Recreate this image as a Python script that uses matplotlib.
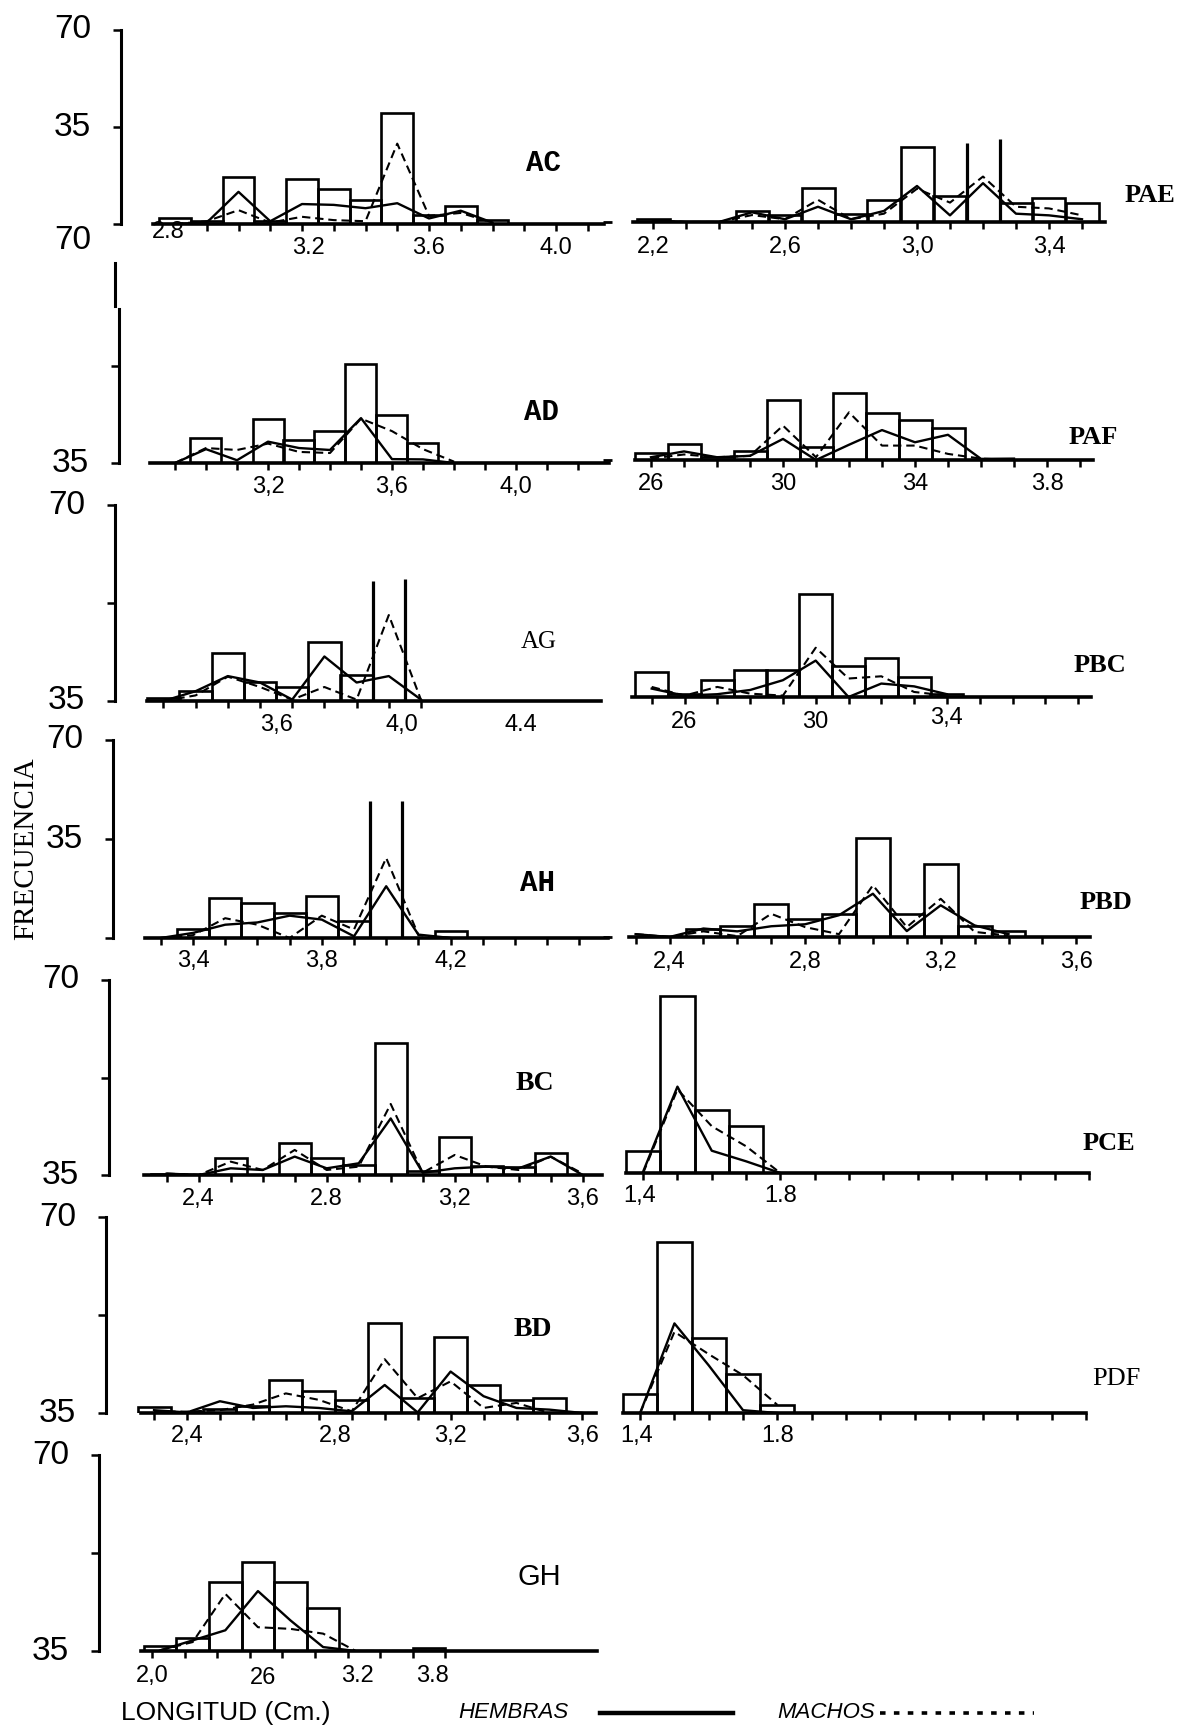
import matplotlib
matplotlib.use('Agg')
import matplotlib.pyplot as plt
from matplotlib.lines import Line2D
from matplotlib.transforms import blended_transform_factory

W, H = 1186, 1732
SANS = ['Liberation Sans', 'DejaVu Sans']
SERIF = ['Liberation Serif', 'DejaVu Serif']
MONO = ['Liberation Mono', 'DejaVu Sans Mono']
plt.rcParams['lines.scale_dashes'] = False

# ---- data: bin centres (cm), total frequency bars, hembras, machos ----
AC_X = [2.8, 2.9, 3.0, 3.1, 3.2, 3.3, 3.4, 3.5, 3.6, 3.7, 3.8]
AC_BARS = [2.2, 1.0, 17, 1.0, 16.2, 12.6, 8.7, 40, 3.2, 6.5, 1.4]
AC_HEMBRAS = [0, 0.5, 11.6, 1, 7.2, 6.9, 5.7, 7.5, 2, 4.8, 0.5]
AC_MACHOS = [0, 1, 5, 0.5, 2.6, 1.4, 1, 29, 2.9, 4, 0.5]

PAE_X = [2.2, 2.3, 2.4, 2.5, 2.6, 2.7, 2.8, 2.9, 3.0, 3.1, 3.2, 3.3, 3.4, 3.5]
PAE_BARS = [1, 0, 0, 4, 2.6, 12.3, 2.8, 7.8, 27.2, 9.5, 0, 7, 8.6, 7]
PAE_HEMBRAS = [0.5, 0, 0, 3.5, 1, 5.5, 1, 4, 13, 2.4, 14, 3, 2.4, 1]
PAE_MACHOS = [0.5, 0, 0, 2.5, 1, 8, 1, 3, 12, 7, 16.4, 5.5, 4.9, 2.4]
PAE_OPEN = (3.2, 28.4, 30)

AD_X = [2.9, 3.0, 3.1, 3.2, 3.3, 3.4, 3.5, 3.6, 3.7, 3.8]
AD_BARS = [0, 8.9, 0, 15.8, 8.3, 11.5, 35.6, 17.3, 7.1, 0]
AD_HEMBRAS = [0, 5, 1, 7.7, 5.4, 4.7, 16.2, 1.4, 1.3, 0]
AD_MACHOS = [0, 5.4, 4.7, 7, 4, 3.6, 16, 11.5, 5, 0.5]

PAF_X = [2.6, 2.7, 2.8, 2.9, 3.0, 3.1, 3.2, 3.3, 3.4, 3.5, 3.6, 3.7]
PAF_BARS = [2.4, 5.8, 1.2, 3.4, 21.6, 4.6, 24, 16.8, 14.6, 11.5, 0, 0]
PAF_HEMBRAS = [1, 3.1, 1, 1.5, 7.6, 0, 5.5, 10.8, 6.4, 9.1, 0.4, 0.5]
PAF_MACHOS = [0.5, 2, 1, 1.5, 12.4, 1, 17.2, 5.2, 5.2, 2.2, 0.5, 0]

AG_X = [3.3, 3.4, 3.5, 3.6, 3.7, 3.8, 3.9, 4.0, 4.1]
AG_BARS = [1, 3.7, 17.3, 6.9, 5, 21.1, 9.2, 0, 0]
AG_HEMBRAS = [0, 3.5, 8.9, 6.6, 0.5, 15.9, 6.6, 8.9, 0.5]
AG_MACHOS = [0, 2, 8.7, 5, 0.5, 5, 0.5, 30.7, 0.4]
AG_OPEN = (4.0, 43, 43.5)

PBC_X = [2.5, 2.6, 2.7, 2.8, 2.9, 3.0, 3.1, 3.2, 3.3, 3.4]
PBC_BARS = [9, 1, 6, 9.5, 9.5, 36.8, 11, 14, 7.2, 1.2]
PBC_HEMBRAS = [3, 0.5, 1, 2.5, 6, 13, 0, 4.8, 3.8, 1]
PBC_MACHOS = [3.6, 0.5, 3.6, 1.2, 0.5, 17.6, 6.6, 7.4, 1.8, 0.5]

AH_X = [3.3, 3.4, 3.5, 3.6, 3.7, 3.8, 3.9, 4.0, 4.1, 4.2]
AH_BARS = [0, 3.2, 14.1, 12.4, 8.8, 15, 6.1, 0, 0, 2.4]
AH_HEMBRAS = [0, 1.8, 4.7, 5.5, 7.9, 6.5, 0.6, 18.3, 1.2, 0]
AH_MACHOS = [0, 1, 7, 4.7, 0, 7.9, 3, 28.3, 1, 0]
AH_OPEN = (4.0, 48.3, 48.3)

PBD_X = [2.3, 2.4, 2.5, 2.6, 2.7, 2.8, 2.9, 3.0, 3.1, 3.2, 3.3, 3.4]
PBD_BARS = [0, 0, 2.9, 3.8, 11.8, 6.5, 8, 35.1, 8.2, 25.9, 3.8, 2.1]
PBD_HEMBRAS = [1, 0, 3, 2, 3.8, 4.5, 7.7, 15.3, 2.1, 11.2, 4.1, 1]
PBD_MACHOS = [1, 0, 2, 0.3, 8.2, 3.5, 1, 18.3, 3.5, 13.5, 1.8, 0.5]

BC_X = [2.3, 2.4, 2.5, 2.6, 2.7, 2.8, 2.9, 3.0, 3.1, 3.2, 3.3, 3.4, 3.5, 3.6]
BC_BARS = [0.5, 0, 6, 0, 11.6, 6, 3.6, 47.3, 1.6, 13.5, 3.2, 2.8, 7.8, 0]
BC_HEMBRAS = [0.5, 0, 2.4, 1.8, 6.6, 2.4, 4.2, 20.3, 0.8, 2.4, 3, 2.4, 6.6, 0]
BC_MACHOS = [0.5, 0, 4.8, 1.8, 9, 1.8, 3, 25.5, 0.8, 7.2, 3, 1.8, 6.6, 0.5]

PCE_X = [1.4, 1.5, 1.6, 1.7, 1.8]
PCE_BARS = [7.8, 63.7, 22.5, 17, 0]
PCE_HEMBRAS = [0.5, 31, 8, 4.2, 0]
PCE_MACHOS = [0, 30, 16.8, 9.6, 0]

BD_X = [2.3, 2.4, 2.5, 2.6, 2.7, 2.8, 2.9, 3.0, 3.1, 3.2, 3.3, 3.4, 3.5, 3.6]
BD_BARS = [2.1, 0.5, 1.5, 2.5, 11.9, 7.7, 4.7, 32.3, 5.3, 27.3, 10.1, 4.5, 5.3, 0]
BD_HEMBRAS = [1, 0.2, 4.2, 1.8, 2.4, 1.8, 0.6, 10, 0.2, 14.8, 6, 1.8, 1.2, 0]
BD_MACHOS = [0.5, 0.5, 1, 3, 7, 4.7, 0.6, 19.2, 5.3, 11.3, 1.8, 3.6, 0, 0]

PDF_X = [1.4, 1.5, 1.6, 1.7, 1.8]
PDF_BARS = [6.8, 61, 26.7, 13.9, 2.9]
PDF_HEMBRAS = [0, 32, 17, 1, 0]
PDF_MACHOS = [0, 29, 21, 13.5, 2.9]

GH_X = [2.05, 2.25, 2.45, 2.65, 2.85, 3.05, 3.25, 3.7]
GH_BARS = [1.7, 4.7, 24.5, 31.7, 24.8, 15.4, 0, 1.2]
GH_HEMBRAS = [0.2, 3.8, 7.4, 21.4, 10.9, 1.4, 0, 0]
GH_MACHOS = [0.3, 3.2, 20.4, 8.5, 7.9, 6.2, 0, 0]


def ticks(start, n, step=0.1):
    return [round(start + i * step, 2) for i in range(n)]


# layout in reference pixels: box = (left, right, baseline, top), anchor = (value, px, px per unit)
PANELS = [
    dict(name='AC', x=AC_X, bars=AC_BARS, h=AC_HEMBRAS, m=AC_MACHOS,
         box=(121, 612, 224, 30), anchor=(3.2, 302, 317.5), line=(2.73, 4.15),
         ticks=ticks(2.9, 13), xl=[(2.78, '2.8', 8), (3.22, '3.2', 24), (3.6, '3.6', 24), (4.0, '4.0', 24)],
         yt=[0, 35, 70], yl=[(70, '70'), (35, '35'), (-6, '70')],
         label=(543, 163), font=MONO, weight='bold', size=21),
    dict(name='PAE', x=PAE_X, bars=PAE_BARS, h=PAE_HEMBRAS, m=PAE_MACHOS, open=PAE_OPEN,
         box=(612, 1110, 222, 28), anchor=(2.2, 653, 330), line=(2.14, 3.57),
         ticks=ticks(2.2, 14), xl=[(2.2, '2,2', 25), (2.6, '2,6', 25), (3.0, '3,0', 25), (3.4, '3,4', 25)],
         stub=True, label=(1150, 195), font=SERIF, weight='bold', size=19),
    dict(name='AD', x=AD_X, bars=AD_BARS, h=AD_HEMBRAS, m=AD_MACHOS,
         box=(119, 612, 463, 269), anchor=(3.2, 268, 310), line=(2.82, 4.3),
         ticks=ticks(2.9, 14), xl=[(3.2, '3,2', 24), (3.6, '3,6', 24), (4.0, '4,0', 24)],
         yt=[0, 35], yl=[(0, '35')], broken=True,
         label=(541, 412), font=MONO, weight='bold', size=21),
    dict(name='PAF', x=PAF_X, bars=PAF_BARS, h=PAF_HEMBRAS, m=PAF_MACHOS,
         box=(612, 1110, 460, 266), anchor=(2.6, 651, 330), line=(2.55, 3.94),
         ticks=ticks(2.6, 14), xl=[(2.6, '26', 24), (3.0, '30', 24), (3.4, '34', 24), (3.8, '3.8', 24)],
         stub=True, label=(1093, 438), font=SERIF, weight='bold', size=19),
    dict(name='AG', x=AG_X, bars=AG_BARS, h=AG_HEMBRAS, m=AG_MACHOS, open=AG_OPEN,
         box=(115, 612, 701, 505), anchor=(3.6, 260, 322), line=(3.25, 4.66),
         ticks=ticks(3.3, 9), xl=[(3.65, '3,6', 24), (4.04, '4,0', 24), (4.41, '4.4', 24)],
         yt=[0, 35, 70], yl=[(70, '70'), (0, '35')],
         label=(539, 642), font=SERIF, weight='normal', size=18),
    dict(name='PBC', x=PBC_X, bars=PBC_BARS, h=PBC_HEMBRAS, m=PBC_MACHOS,
         box=(612, 1110, 697, 501), anchor=(2.6, 684.5, 328), line=(2.44, 3.84),
         ticks=ticks(2.5, 14), xl=[(2.6, '26', 25), (3.0, '30', 25), (3.4, '3,4', 21)],
         label=(1100, 665), font=SERIF, weight='bold', size=19),
    dict(name='AH', x=AH_X, bars=AH_BARS, h=AH_HEMBRAS, m=AH_MACHOS, open=AH_OPEN,
         box=(113, 612, 938, 740), anchor=(3.4, 193, 322), line=(3.25, 4.69),
         ticks=ticks(3.3, 14), xl=[(3.4, '3,4', 23), (3.8, '3,8', 23), (4.2, '4,2', 23)],
         yt=[0, 35, 70], yl=[(70, '70'), (35, '35')],
         label=(538, 883), font=MONO, weight='bold', size=21),
    dict(name='PBD', x=PBD_X, bars=PBD_BARS, h=PBD_HEMBRAS, m=PBD_MACHOS,
         box=(612, 1110, 937, 739), anchor=(2.4, 669.5, 339), line=(2.28, 3.64),
         ticks=ticks(2.3, 14), xl=[(2.4, '2,4', 25), (2.8, '2,8', 25), (3.2, '3,2', 25), (3.6, '3,6', 25)],
         stub=True, label=(1106, 902), font=SERIF, weight='bold', size=19),
    dict(name='BC', x=BC_X, bars=BC_BARS, h=BC_HEMBRAS, m=BC_MACHOS,
         box=(109, 612, 1175, 980), anchor=(2.4, 198.7, 320), line=(2.23, 3.66),
         ticks=ticks(2.3, 14), xl=[(2.4, '2,4', 24), (2.8, '2.8', 24), (3.2, '3,2', 24), (3.6, '3,6', 24)],
         yt=[0, 35, 70], yl=[(70, '70'), (0, '35')],
         label=(535, 1083), font=SERIF, weight='bold', size=20),
    dict(name='PCE', x=PCE_X, bars=PCE_BARS, h=PCE_HEMBRAS, m=PCE_MACHOS,
         box=(612, 1110, 1173, 978), anchor=(1.42, 650, 343), line=(1.35, 2.7),
         ticks=ticks(1.4, 14), xl=[(1.39, '1,4', 23), (1.8, '1.8', 23)],
         label=(1109, 1144), font=SERIF, weight='bold', size=19),
    dict(name='BD', x=BD_X, bars=BD_BARS, h=BD_HEMBRAS, m=BD_MACHOS,
         box=(106, 612, 1413, 1217), anchor=(2.4, 187, 329.5), line=(2.26, 3.64),
         ticks=ticks(2.3, 14), xl=[(2.4, '2,4', 23), (2.85, '2,8', 23), (3.2, '3,2', 23), (3.6, '3,6', 23)],
         yt=[0, 35, 70], yl=[(70, '70'), (0, '35')],
         label=(533, 1329), font=SERIF, weight='bold', size=20),
    dict(name='PDF', x=PDF_X, bars=PDF_BARS, h=PDF_HEMBRAS, m=PDF_MACHOS,
         box=(612, 1110, 1413, 1217), anchor=(1.42, 647, 343), line=(1.35, 2.7),
         ticks=ticks(1.4, 14), xl=[(1.39, '1,4', 23), (1.8, '1.8', 23)],
         label=(1116, 1379), font=SERIF, weight='normal', size=19),
    dict(name='GH', x=GH_X, bars=GH_BARS, h=GH_HEMBRAS, m=GH_MACHOS, width=0.2,
         box=(99, 612, 1651, 1455), anchor=(2.0, 152, 163), line=(1.93, 4.73),
         ticks=ticks(2.0, 10, 0.2), xl=[(2.0, '2,0', 25), (2.68, '26', 27), (3.26, '3.2', 25), (3.72, '3.8', 25)],
         yt=[0, 35, 70], yl=[(70, '70'), (0, '35')],
         label=(539, 1577), font=SANS, weight='normal', size=21),
]

PX = 72 / 100  # points per reference pixel


def draw_panel(fig, p):
    left, right, base, top = p['box']
    ax = fig.add_axes([left / W, 1 - base / H, (right - left) / W, (base - top) / H])
    va, pa, ppu = p['anchor']
    ax.patch.set_alpha(0)
    ax.spines['top'].set_visible(False)
    ax.spines['right'].set_visible(False)

    w = p.get('width', 0.1)
    xs = [x for x, b in zip(p['x'], p['bars']) if b > 0]
    hs = [b for b in p['bars'] if b > 0]
    ax.bar(xs, hs, width=w, fill=False, edgecolor='black', linewidth=1.9, zorder=3)
    if 'open' in p:
        c, hl, hr = p['open']
        ax.vlines([c - w / 2], 0, hl, color='black', lw=2.3, zorder=3)
        ax.vlines([c + w / 2], 0, hr, color='black', lw=2.3, zorder=3)

    ax.plot(p['x'], p['h'], color='black', lw=1.7, zorder=4)
    ax.plot(p['x'], p['m'], color='black', lw=1.5, ls=(0, (6, 3.5)), zorder=4)

    ax.spines['bottom'].set_linewidth(2.6)
    ax.spines['bottom'].set_bounds(*p['line'])
    ax.spines['bottom'].set_zorder(5)
    ax.set_xticks(p['ticks'])
    ax.set_xticklabels([])
    ax.tick_params(axis='x', direction='out', length=5, width=1.8)

    ymix = blended_transform_factory(ax.transAxes, ax.transData)
    if 'yt' in p:
        ax.spines['left'].set_linewidth(2.2)
        ax.spines['left'].set_bounds(0, 55.5 if p.get('broken') else 70)
        ax.set_yticks(p['yt'])
        ax.set_yticklabels([])
        ax.tick_params(axis='y', direction='out', length=6, width=1.8)
    else:
        ax.spines['left'].set_visible(False)
        if p.get('stub'):
            ax.set_yticks([0])
            ax.set_yticklabels([])
            ax.tick_params(axis='y', direction='out', length=6.5, width=2)
        else:
            ax.set_yticks([])

    # limits last: set_xticks may widen the view otherwise
    ax.set_xlim(va + (left - pa) / ppu, va + (right - pa) / ppu)
    ax.set_ylim(0, 70)

    for v, txt, dy in p['xl']:
        ax.annotate(txt, (v, 0), xytext=(0, -dy * PX), textcoords='offset points',
                    ha='center', va='center', fontsize=17, family=SANS)
    for v, txt in p.get('yl', []):
        ax.annotate(txt, (0, v), xycoords=ymix, xytext=(-30 * PX, 0), textcoords='offset points',
                    ha='right', va='center', fontsize=24, family=SANS)
    if p.get('broken'):
        off = -4 / (right - left)
        ax.plot([off, off], [56.5, 72], transform=ymix, clip_on=False, color='k', lw=2.2)

    lx, ly = p['label']
    fig.text(lx / W, 1 - ly / H, p['name'], ha='center', va='center',
             family=p['font'], fontweight=p['weight'], fontsize=p['size'])
    return ax


def main():
    fig = plt.figure(figsize=(W / 100, H / 100), dpi=100)
    fig.patch.set_facecolor('white')
    for p in PANELS:
        draw_panel(fig, p)

    fig.text(26 / W, 1 - 849 / H, 'FRECUENCIA', rotation=90, ha='center', va='center',
             family=SERIF, fontsize=21)

    yb = 1 - 1713 / H
    fig.text(121 / W, yb, 'LONGITUD (Cm.)', ha='left', va='center', family=SANS, fontsize=19)
    fig.text(458 / W, yb, 'HEMBRAS', ha='left', va='center', family=SANS, style='italic', fontsize=16)
    fig.add_artist(Line2D([600 / W, 733 / W], [yb, yb], color='black', lw=3.2,
                          transform=fig.transFigure))
    fig.text(777 / W, yb, 'MACHOS', ha='left', va='center', family=SANS, style='italic', fontsize=16)
    fig.add_artist(Line2D([880 / W, 1034 / W], [yb, yb], color='black', lw=2.6, ls=(0, (4, 6)),
                          transform=fig.transFigure))

    fig.savefig('out.png', dpi=100)


if __name__ == '__main__':
    main()
